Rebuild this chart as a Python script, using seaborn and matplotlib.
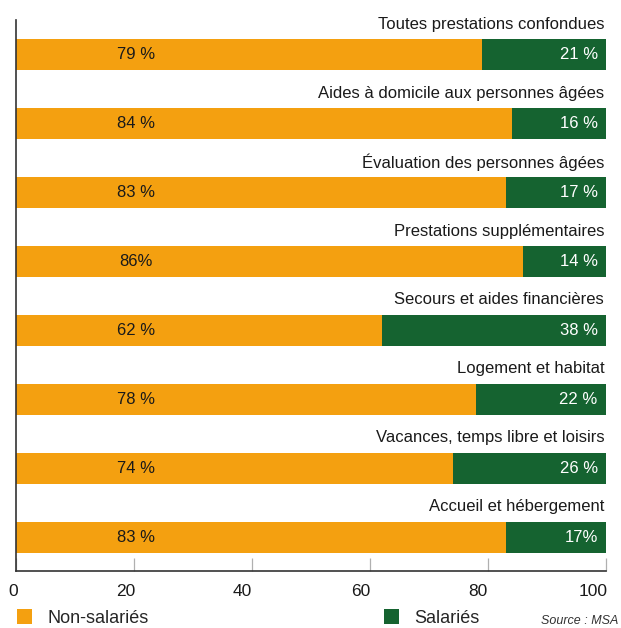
import matplotlib
matplotlib.use("Agg")
import matplotlib.pyplot as plt
import matplotlib.transforms as mtransforms
from matplotlib.patches import Patch
import seaborn as sns
import pandas as pd

categories = [
    "Toutes prestations confondues",
    "Aides à domicile aux personnes âgées",
    "Évaluation des personnes âgées",
    "Prestations supplémentaires",
    "Secours et aides financières",
    "Logement et habitat",
    "Vacances, temps libre et loisirs",
    "Accueil et hébergement",
]
non_salaries = [79, 84, 83, 86, 62, 78, 74, 83]
salaries = [21, 16, 17, 14, 38, 22, 26, 17]
non_salaries_labels = ["79 %", "84 %", "83 %", "86%", "62 %", "78 %", "74 %", "83 %"]
salaries_labels = ["21 %", "16 %", "17 %", "14 %", "38 %", "22 %", "26 %", "17%"]
x_ticks = [0, 20, 40, 60, 80, 100]

ORANGE = "#F4A010"
GREEN = "#156330"
FONT = ["Liberation Sans", "DejaVu Sans"]

sns.set_theme(style="white")
plt.rcParams["font.family"] = FONT

df = pd.DataFrame({
    "categorie": categories,
    "non_salaries": non_salaries,
    "salaries": salaries,
})
df["total"] = df["non_salaries"] + df["salaries"]

fig = plt.figure(figsize=(6.21, 6.28), dpi=100)
W, H = 621, 628
ax = fig.add_axes([16 / W, (H - 571) / H, (606 - 16) / W, (571 - 20) / H])

# stacked bars: full width in green, non-salariés on top in orange
sns.barplot(data=df, y="categorie", x="total", color=GREEN, orient="h",
            width=0.45, saturation=1, ax=ax, linewidth=0)
sns.barplot(data=df, y="categorie", x="non_salaries", color=ORANGE, orient="h",
            width=0.45, saturation=1, ax=ax, linewidth=0)

ax.set_xlim(0, 100)
ax.set_ylim(7.49, -0.5)
ax.set_xlabel("")
ax.set_ylabel("")
ax.set_yticks([])

for i, cat in enumerate(categories):
    ax.text(99.7, i - 0.44, cat, ha="right", va="center", fontsize=12,
            color="#1a1a1a")
    ax.text(20.3, i, non_salaries_labels[i], ha="center", va="center",
            fontsize=12, color="#1a1a1a")
    ax.text(98.6, i, salaries_labels[i], ha="right", va="center",
            fontsize=12, color="white")

for side in ("top", "right"):
    ax.spines[side].set_visible(False)
for side in ("left", "bottom"):
    ax.spines[side].set_color("#333333")
    ax.spines[side].set_linewidth(1.2)

ax.set_xticks(x_ticks)
ax.set_xticklabels([str(t) for t in x_ticks], fontsize=12.5, color="#1a1a1a")
ax.tick_params(axis="x", direction="in", length=9.5, width=0.9,
               color="#b0b0b0", pad=9, bottom=True)
shifts = [-3, -8, -10, -9, -10, -13]
for lab, dx in zip(ax.get_xticklabels(), shifts):
    lab.set_transform(lab.get_transform() +
                      mtransforms.ScaledTranslation(dx / 100, 0, fig.dpi_scale_trans))

handles = [Patch(facecolor=ORANGE, edgecolor="none", label="Non-salariés"),
           Patch(facecolor=GREEN, edgecolor="none", label="Salariés")]
fig.legend(handles=handles, loc="center left", bbox_to_anchor=(17 / W, 1 - 618 / H),
           ncol=2, frameon=False, fontsize=13, handlelength=0.85, handleheight=0.85,
           handletextpad=0.85, columnspacing=13.0, borderaxespad=0, borderpad=0)

fig.text(618 / W, 1 - 621 / H, "Source : MSA", ha="right", va="center",
         fontsize=9, style="italic", color="#333333")

fig.savefig("out.png", dpi=100)
